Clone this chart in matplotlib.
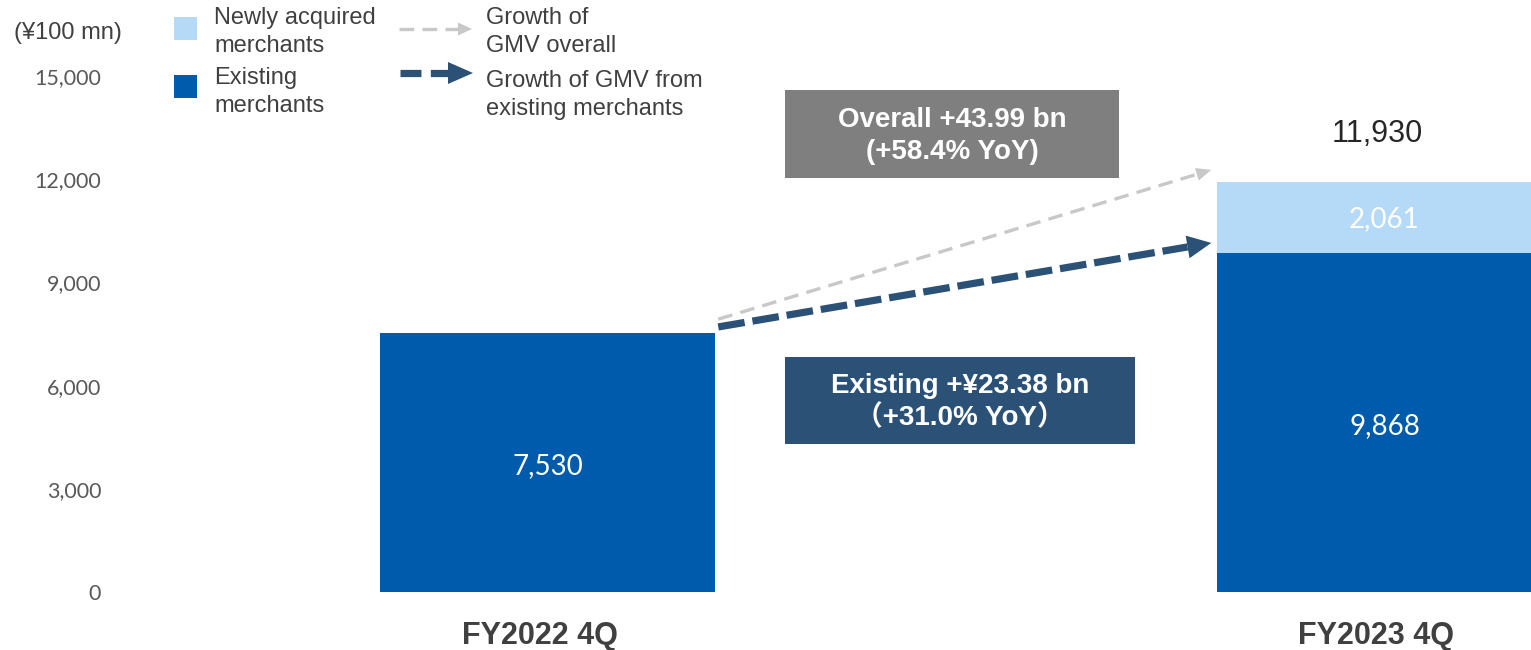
import numpy as np
import matplotlib.pyplot as plt
import matplotlib.transforms as mtransforms
from matplotlib.patches import Rectangle

categories = ["FY2022 4Q", "FY2023 4Q"]
existing = [7530, 9868]
newly = [0, 2061]
totals = [7530, 11930]
yticks = [0, 3000, 6000, 9000, 12000, 15000]

overall_note = "Overall +43.99 bn\n(+58.4% YoY)"
existing_note = "Existing +¥23.38 bn\n（+31.0% YoY）"

C_EXIST = "#005BAC"
C_NEW = "#B5DAF7"
C_GRAY_BOX = "#7F7F7F"
C_DARK_BOX = "#2C5176"
C_GRAY_ARROW = "#C8C8C8"
C_TEXT = "#404040"

W, H = 1531, 650
fig = plt.figure(figsize=(W / 100, H / 100), dpi=100)
ax = fig.add_axes([115 / W, 58 / H, (W - 115) / W, 516 / H])

x = np.arange(len(categories))
bw = 0.4
ax.bar(x, existing, width=bw, color=C_EXIST, zorder=2)
ax.bar(x, newly, width=bw, bottom=existing, color=C_NEW, zorder=2)

ax.set_xlim((115 - 547.5) / 837, (W - 547.5) / 837)
ax.set_ylim(0, 15000)
for s in ax.spines.values():
    s.set_visible(False)

ax.set_yticks(yticks)
ax.set_yticklabels([f"{v:,}" for v in yticks], family="Lato", fontsize=15.5, color="#595959")
ax.set_xticks(x)
ax.set_xticklabels(categories, family="Liberation Sans", fontsize=22, fontweight="bold", color=C_TEXT)
ax.tick_params(axis="y", length=0, pad=10)
ax.tick_params(axis="x", length=0, pad=21)
shift = mtransforms.ScaledTranslation(-8 / 100, 0, fig.dpi_scale_trans)
for lbl in ax.get_xticklabels():
    lbl.set_transform(lbl.get_transform() + shift)

# segment values
for i in range(len(categories)):
    ax.annotate(f"{existing[i]:,}", xy=(x[i], existing[i] / 2), xytext=(0, -2.5),
                textcoords="offset points", ha="center", va="center",
                family="Lato", fontsize=20, color="white", zorder=3)
    if newly[i] > 0:
        ax.annotate(f"{newly[i]:,}", xy=(x[i], existing[i] + newly[i] / 2), xytext=(0, -1.5),
                    textcoords="offset points", ha="center", va="center",
                    family="Lato", fontsize=20, color="white", zorder=3)

ax.annotate(f"{totals[1]:,}", xy=(x[1], totals[1]), xytext=(-5, 34), textcoords="offset points",
            ha="center", va="center", family="Liberation Sans", fontsize=22, color="#262626")


def dashed_arrow(axes, start, tip, color, lw, dashes, head_len, head_w):
    # line + solid head, built in display space so the head keeps its shape
    p0 = axes.transData.transform(start)
    p1 = axes.transData.transform(tip)
    u = (p1 - p0) / np.hypot(*(p1 - p0))
    n = np.array([-u[1], u[0]])
    base = p1 - u * head_len
    inv = axes.transData.inverted()
    line = inv.transform(np.vstack([p0, base]))
    axes.plot(line[:, 0], line[:, 1], color=color, lw=lw, linestyle=(0, dashes),
              solid_capstyle="butt", zorder=4, clip_on=False)
    head = inv.transform(np.vstack([p1, base + n * head_w / 2, base - n * head_w / 2]))
    axes.fill(head[:, 0], head[:, 1], color=color, lw=0, zorder=4, clip_on=False)


x0 = x[0] + bw / 2 + 0.004
x1 = x[1] - bw / 2 - 0.007
dashed_arrow(ax, (x0, existing[0] + 400), (x1, totals[1] + 340), C_GRAY_ARROW, 2.4, (4.4, 2.5), 15, 13)
dashed_arrow(ax, (x0, existing[0] + 175), (x1, existing[1] + 280), C_DARK_BOX, 5.2, (3.7, 1.1), 24, 23)

# overlay in pixel coordinates for legend and notes
lay = fig.add_axes([0, 0, 1, 1], zorder=5)
lay.set_xlim(0, W)
lay.set_ylim(H, 0)
lay.axis("off")
lay.patch.set_alpha(0)

lay.add_patch(Rectangle((785, 90), 334, 88, color=C_GRAY_BOX, lw=0))
lay.text(952, 136, overall_note, ha="center", va="center", family="Liberation Sans",
         fontsize=20, fontweight="bold", color="white", linespacing=1.3)
lay.add_patch(Rectangle((785, 357), 350, 87, color=C_DARK_BOX, lw=0))
lay.text(960, 402, existing_note, ha="center", va="center",
         family=["Liberation Sans", "Noto Sans CJK JP"],
         fontsize=20, fontweight="bold", color="white", linespacing=1.3)

lay.text(14, 33, "(¥100 mn)", ha="left", va="center", family="Liberation Sans",
         fontsize=17, color=C_TEXT)

lay.add_patch(Rectangle((174, 17), 23, 23, color=C_NEW, lw=0))
lay.add_patch(Rectangle((174, 75), 23, 23, color=C_EXIST, lw=0))
lay.text(214, 32, "Newly acquired\nmerchants", ha="left", va="center", family="Liberation Sans",
         fontsize=17, color=C_TEXT, linespacing=1.3)
lay.text(214, 92, "Existing\nmerchants", ha="left", va="center", family="Liberation Sans",
         fontsize=17, color=C_TEXT, linespacing=1.3)

dashed_arrow(lay, (399, 29), (472, 29), C_GRAY_ARROW, 2.4, (4.4, 2.5), 14, 13)
dashed_arrow(lay, (400, 73), (473, 73), C_DARK_BOX, 5.2, (2.9, 1.3), 25, 22)
lay.text(486, 32, "Growth of\nGMV overall", ha="left", va="center", family="Liberation Sans",
         fontsize=17, color=C_TEXT, linespacing=1.3)
lay.text(486, 95, "Growth of GMV from\nexisting merchants", ha="left", va="center",
         family="Liberation Sans", fontsize=17, color=C_TEXT, linespacing=1.3)

fig.savefig("out.png", dpi=100)
